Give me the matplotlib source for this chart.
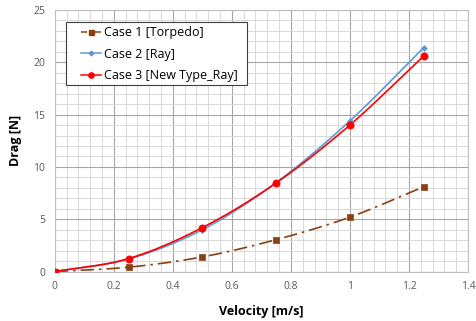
import numpy as np
import matplotlib.pyplot as plt
from matplotlib.ticker import MultipleLocator
from matplotlib.patches import Rectangle

velocity = [0, 0.25, 0.5, 0.75, 1.0, 1.25]
case1_torpedo = [0, 0.42, 1.4, 3.05, 5.2, 8.1]
case2_ray = [0, 1.2, 4.0, 8.5, 14.4, 21.4]
case3_new_ray = [0, 1.24, 4.2, 8.47, 14.0, 20.6]

labels = ["Case 1 [Torpedo]", "Case 2 [Ray]", "Case 3 [New Type_Ray]"]
x_ticks = [0, 0.2, 0.4, 0.6, 0.8, 1.0, 1.2, 1.4]
x_tick_labels = ["0", "0.2", "0.4", "0.6", "0.8", "1", "1.2", "1.4"]


def smooth(x, y, n=30):
    # Excel style smoothed line (Catmull-Rom through the points)
    x = np.asarray(x, float)
    y = np.asarray(y, float)
    px = np.concatenate([[2 * x[0] - x[1]], x, [2 * x[-1] - x[-2]]])
    py = np.concatenate([[2 * y[0] - y[1]], y, [2 * y[-1] - y[-2]]])
    xs, ys = [], []
    t = np.linspace(0, 1, n)
    for i in range(1, len(px) - 2):
        for p, out in ((px, xs), (py, ys)):
            p0, p1, p2, p3 = p[i - 1], p[i], p[i + 1], p[i + 2]
            out.extend(0.5 * ((2 * p1) + (-p0 + p2) * t
                              + (2 * p0 - 5 * p1 + 4 * p2 - p3) * t ** 2
                              + (-p0 + 3 * p1 - 3 * p2 + p3) * t ** 3))
    return xs, ys


plt.rcParams['font.family'] = ['Open Sans', 'DejaVu Sans']

fig = plt.figure(figsize=(4.77, 3.21), dpi=100)
ax = fig.add_axes([0.115, 0.154, 0.866, 0.815])

series = [
    (case1_torpedo, "#8B3F10", (0, (8, 3, 1.5, 3)), "s", 4.2, 3.6),
    (case2_ray, "#5B9BD5", "-", "D", 3.0, 2.4),
    (case3_new_ray, "#FF0000", "-", "o", 5.2, 3.8),
]
for (vals, col, ls, mk, ms, lms), lab in zip(series, labels):
    sx, sy = smooth(velocity, vals)
    ax.plot(sx, sy, color=col, linestyle=ls, linewidth=1.2, zorder=3)
    ax.plot(velocity, vals, linestyle="none", marker=mk, markersize=ms,
            markeredgewidth=0.5, color=col, zorder=4)
    ax.plot([], [], color=col, linestyle=ls if ls == "-" else (0, (4, 2, 1, 2)),
            linewidth=1.1, marker=mk, markersize=lms, label=lab)

ax.set_xlim(0, 1.4)
ax.set_ylim(0, 25)
ax.set_xticks(x_ticks)
ax.set_xticklabels(x_tick_labels)
ax.xaxis.set_minor_locator(MultipleLocator(0.04))
ax.yaxis.set_major_locator(MultipleLocator(5))
ax.yaxis.set_minor_locator(MultipleLocator(1))
ax.grid(which="major", color="#A6A6A6", linewidth=0.8)
ax.grid(which="minor", color="#D9D9D9", linewidth=0.7)
ax.set_axisbelow(True)
for s in ax.spines.values():
    s.set_color("#BFBFBF")
    s.set_linewidth(0.8)
ax.tick_params(which="both", length=0, labelsize=7.5, colors="#595959")
ax.tick_params(axis="x", pad=7)
ax.tick_params(axis="y", pad=7)

ax.set_xlabel("Velocity [m/s]", fontsize=9, fontweight="bold", labelpad=9)
ax.set_ylabel("Drag [N]", fontsize=9, fontweight="bold", labelpad=8)

# legend box drawn separately so the indent matches
ax.add_patch(Rectangle((0.026, 0.713), 0.438, 0.242, transform=ax.transAxes,
                       facecolor="white", edgecolor="#404040", linewidth=0.8,
                       zorder=5))
leg = ax.legend(loc="upper left", bbox_to_anchor=(0.063, 0.937), fontsize=9,
                frameon=False, handlelength=1.6, borderpad=0,
                borderaxespad=0, labelspacing=0.66, handletextpad=0.25)
leg.set_zorder(6)

fig.savefig("out.png", dpi=100)
